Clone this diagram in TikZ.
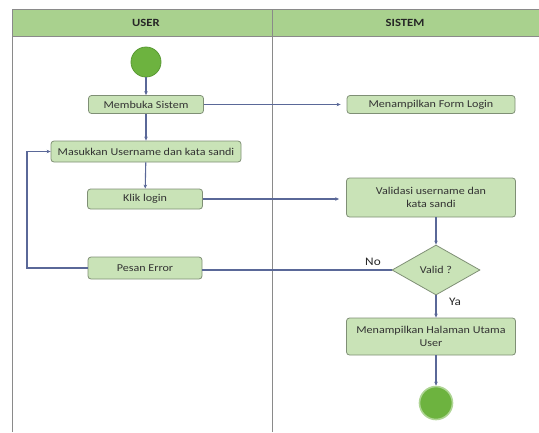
\documentclass[tikz,border=0pt]{standalone}
\usepackage{fontspec}
\setmainfont[FakeStretch=1.15]{Carlito}
\usetikzlibrary{shapes.geometric,arrows.meta}
\definecolor{hdr}{HTML}{A9D18E}
\definecolor{boxfill}{HTML}{C9E3B7}
\definecolor{boxline}{HTML}{7F8F75}
\definecolor{dotfill}{HTML}{6DB33F}
\definecolor{dotline}{HTML}{5A9A34}
\definecolor{conn}{HTML}{5A6898}
\definecolor{lane}{HTML}{8A8A8A}
\tikzset{
  actbox/.style={draw=boxline, fill=boxfill, rounded corners=3pt, line width=0.8pt,
    font=\fontsize{10.5}{13.5}\selectfont, text=black!80, align=center, inner sep=0pt},
  dot/.style={circle, draw=dotline, fill=dotfill, line width=0.8pt, inner sep=0pt},
  decide/.style={diamond, draw=boxline, fill=boxfill, line width=0.8pt, inner sep=0pt,
    font=\fontsize{10.5}{13}\selectfont, text=black!80},
  flow/.style={draw=conn, line width=1.1pt, -{Stealth[length=4pt,width=3.5pt]}},
  plainflow/.style={draw=conn, line width=1.1pt},
  lbl/.style={font=\fontsize{11.5}{13}\selectfont, text=black!85},
  hdrtext/.style={font=\bfseries\fontsize{11}{13}\selectfont, text=black!85}
}
\begin{document}
\begin{tikzpicture}[x=1pt,y=-1pt]
\useasboundingbox (0,0) rectangle (539,432);
% swimlanes
\fill[hdr] (12,9) rectangle (539,36);
\draw[lane, line width=0.8pt] (12,9) -- (539,9);
\draw[lane, line width=0.8pt] (12,36) -- (539,36);
\draw[lane, line width=0.8pt] (12,9) -- (12,432);
\draw[lane, line width=0.8pt] (272,9) -- (272,432);
\node[hdrtext] (huser) at (146,22.5) {USER};
\node[hdrtext] (hsis) at (405,22.5) {SISTEM};
% nodes
\node[dot, minimum size=30pt] (start) at (146,62) {};
\node[actbox, minimum width=115pt, minimum height=18pt] (buka) at (146,104.5) {Membuka Sistem};
\node[actbox, minimum width=168pt, minimum height=18pt] (form) at (431,104.5) {Menampilkan Form Login};
\node[actbox, minimum width=190pt, minimum height=21pt] (masuk) at (146,151.5) {Masukkan Username dan kata sandi};
\node[actbox, minimum width=115pt, minimum height=20pt] (klik) at (145,199) {Klik login};
\node[actbox, minimum width=169pt, minimum height=39pt] (valid) at (431,197.5) {Validasi username dan\\kata sandi};
\node[decide, minimum width=88pt, minimum height=50pt] (cek) at (436,270) {Valid ?};
\node[actbox, minimum width=114pt, minimum height=22pt] (err) at (145,268) {Pesan Error};
\node[actbox, minimum width=169pt, minimum height=37pt] (utama) at (431,336.5) {Menampilkan Halaman Utama\\User};
\node[dot, minimum size=33pt, draw=dotfill!55, line width=1.6pt] (stop) at (436,403) {};
\coordinate (loopA) at (27,268);
\coordinate (loopB) at (27,151.5);
% connectors
\draw[flow] (start) -- (buka);
\draw[flow] (buka) -- (masuk);
\draw[flow] (masuk) -- (klik);
\draw[flow] (buka.east) -- ([xshift=-6pt]form.west);
\draw[flow] (klik.east) -- ([xshift=-7pt]valid.west |- klik.east);
\draw[flow] (valid.south -| cek.north) -- (cek.north);
\draw[plainflow] (cek.west) -- (err.east |- cek.west);
\draw[flow] (err.west) -- (loopA) -- (loopB) -- (masuk.west);
\draw[flow] (cek.south) -- (cek.south |- utama.north);
\draw[flow] (utama.south -| stop.north) -- (stop.north);
\node[lbl] (no) at (373,262) {No};
\node[lbl] (ya) at (455,302) {Ya};
\end{tikzpicture}
\end{document}
